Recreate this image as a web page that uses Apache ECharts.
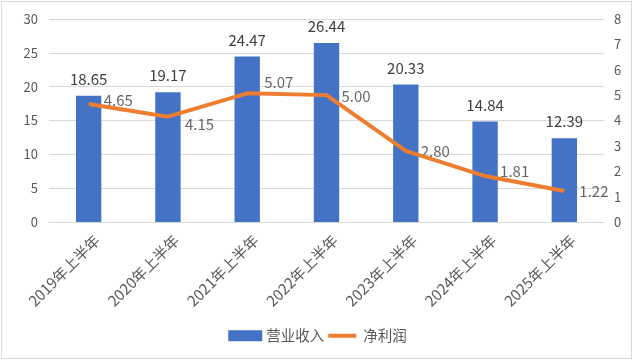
<!DOCTYPE html>
<html><head><meta charset="utf-8">
<script src="https://cdn.jsdelivr.net/npm/echarts@6/dist/echarts.min.js"></script>
<style>html,body{margin:0;padding:0;background:#fff}#c{width:635px;height:362px}
#frame{position:absolute;left:1px;top:1px;width:631px;height:358px;border:1px solid #d9d9d9;box-sizing:border-box;pointer-events:none}</style>
</head><body><div id="c"></div><div id="frame"></div>
<script>
const categories = ['2019年上半年','2020年上半年','2021年上半年','2022年上半年','2023年上半年','2024年上半年','2025年上半年'];
const revenue = [18.65, 19.17, 24.47, 26.44, 20.33, 14.84, 12.39];
const profit = [4.65, 4.15, 5.07, 5.00, 2.80, 1.81, 1.22];
const leftTicks = {min: 0, max: 30, interval: 5};
const rightTicks = {min: 0, max: 8, interval: 1};

const font = '"Noto Sans CJK SC", "Noto Sans", sans-serif';
const labelOffsets = [[0,-4],[2,8],[2,-11],[0,1],[0,0],[0,-5],[0,0]];
const chart = echarts.init(document.getElementById('c'));
chart.setOption({
  animation: false,
  textStyle: {fontFamily: font},
  grid: {left: 49, right: 31, top: 19, bottom: 140, containLabel: false},
  legend: {
    bottom: 14, left: 'center', itemGap: 4, itemWidth: 34, itemHeight: 11,
    textStyle: {fontSize: 14.5, color: '#595959', fontFamily: font, padding: [0,0,0,-1]},
    data: [{name: '营业收入', icon: 'rect'},
           {name: '净利润', icon: 'path://M0,0 M0,3.5 L28,3.5 L28,7.5 L0,7.5 Z M28,11', itemStyle: {color: '#ED7D31'}}]
  },
  xAxis: {
    type: 'category', data: categories,
    axisLine: {lineStyle: {color: '#d9d9d9'}}, axisTick: {show: false},
    axisLabel: {rotate: 45, color: '#595959', fontSize: 15, interval: 0, margin: 24, padding: [0,-12,0,0], fontFamily: font}
  },
  yAxis: [
    {type: 'value', min: leftTicks.min, max: leftTicks.max, interval: leftTicks.interval,
     axisLabel: {color: '#595959', fontSize: 13, margin: 11, fontFamily: font},
     splitLine: {lineStyle: {color: '#d9d9d9'}}, axisLine: {show: false}, axisTick: {show: false}},
    {type: 'value', min: rightTicks.min, max: rightTicks.max, interval: rightTicks.interval,
     axisLabel: {color: '#595959', fontSize: 13, margin: 10, fontFamily: font},
     splitLine: {show: false}, axisLine: {show: false}, axisTick: {show: false}}
  ],
  series: [
    {name: '营业收入', type: 'bar', data: revenue, barWidth: '32%',
     itemStyle: {color: '#4472C4'},
     label: {show: true, position: 'top', distance: 9, color: '#404040', fontSize: 15, formatter: p => p.value.toFixed(2), fontFamily: font}},
    {name: '净利润', type: 'line', yAxisIndex: 1, symbol: 'none', data: profit,
     lineStyle: {color: '#ED7D31', width: 4}, itemStyle: {color: '#ED7D31'}},
    {name: 'profitLabels', type: 'scatter', yAxisIndex: 1, symbolSize: 2, silent: true,
     itemStyle: {color: 'rgba(0,0,0,0)'},
     data: profit.map((v, i) => ({value: v, label: {offset: labelOffsets[i]}})),
     label: {show: true, position: 'right', distance: 14, color: '#404040', fontSize: 15, formatter: p => p.value.toFixed(2), fontFamily: font}}
  ]
});
</script></body></html>
